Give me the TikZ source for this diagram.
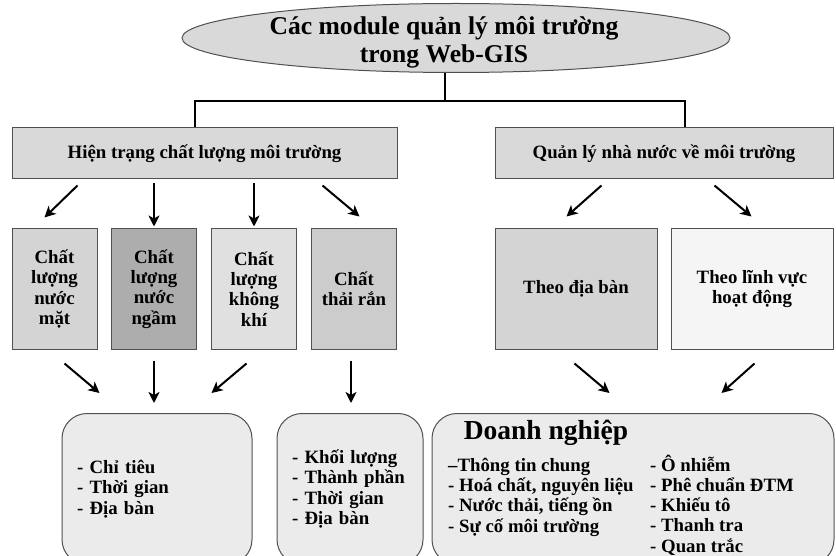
\documentclass[tikz,border=0pt]{standalone}
\usepackage{fontspec}
\setmainfont{Liberation Serif}
\usetikzlibrary{shapes.geometric,arrows.meta}

\definecolor{xamtieude}{HTML}{D9D9D9}
\definecolor{xamnuocmat}{HTML}{D4D4D4}
\definecolor{xamnuocngam}{HTML}{ADADAD}
\definecolor{xamkhongkhi}{HTML}{E0E0E0}
\definecolor{xamthairan}{HTML}{CCCCCC}
\definecolor{xamlinhvuc}{HTML}{F5F5F5}
\definecolor{xamday}{HTML}{EBEBEB}
\definecolor{vienxam}{HTML}{505050}

\tikzset{
  modbox/.style={draw=vienxam, line width=1pt, fill=#1, inner sep=0pt, align=center,
    font=\fontsize{18.8}{20.3}\selectfont\bfseries},
  listbox/.style={draw=vienxam, line width=1pt, fill=xamday, rounded corners=25pt,
    inner xsep=15pt, inner ysep=0pt, align=left, font=\fontsize{18.8}{20.3}\selectfont\bfseries},
  listtext/.style={inner sep=0pt, align=left, font=\fontsize{18.8}{20.3}\selectfont\bfseries},
  arr/.style={line width=2pt, -{Stealth[length=11pt,width=11pt,inset=3pt]}},
  conn/.style={line width=2pt}
}

\begin{document}
\begin{tikzpicture}[x=1pt,y=-1pt]
  \useasboundingbox (0,0) rectangle (836,556);

  \node[ellipse, draw=vienxam, line width=1pt, fill=xamtieude, minimum width=548pt,
    minimum height=69pt, inner sep=0pt] (Title) at (456,38) {};
  \node[inner sep=0pt, align=center, font=\fontsize{25.6}{28}\selectfont\bfseries] (TitleText) at (444,42)
    {Các module quản lý môi trường\\trong Web-GIS};

  \node[modbox=xamtieude, minimum width=385pt, minimum height=51pt] (HienTrang) at (204.5,153.5)
    {Hiện trạng chất lượng môi trường};
  \node[modbox=xamtieude, minimum width=338pt, minimum height=51pt] (QuanLy) at (664,153.5)
    {Quản lý nhà nước về môi trường};

  \coordinate (Nhanh) at (445,101);
  \draw[conn] (Nhanh |- Title.south) -- (Nhanh);
  \draw[conn] ([xshift=-9.5pt]HienTrang.north) |- (Nhanh) -| ([xshift=21pt]QuanLy.north);

  \node[modbox=xamnuocmat, minimum width=85pt, minimum height=120pt] (NuocMat) at (54.5,289)
    {Chất\\lượng\\nước\\mặt};
  \node[modbox=xamnuocngam, minimum width=85pt, minimum height=120pt] (NuocNgam) at (154,289)
    {Chất\\lượng\\nước\\ngầm};
  \node[modbox=xamkhongkhi, minimum width=85pt, minimum height=120pt] (KhongKhi) at (254,289)
    {Chất\\lượng\\không\\khí};
  \node[modbox=xamthairan, minimum width=85pt, minimum height=120pt] (ThaiRan) at (354,289)
    {Chất\\thải rắn};
  \node[modbox=xamnuocmat, minimum width=162pt, minimum height=120pt] (DiaBan) at (576,289)
    {Theo địa bàn};
  \node[modbox=xamlinhvuc, minimum width=162pt, minimum height=120pt] (LinhVuc) at (752,289)
    {Theo lĩnh vực\\hoạt động};

  \draw[arr] ([shift={(66,6)}]HienTrang.south west) -- ([shift={(33,-11)}]NuocMat.north west);
  \draw[arr, shorten <=4pt, shorten >=2pt] (HienTrang.south -| NuocNgam.north) -- (NuocNgam.north);
  \draw[arr, shorten <=4pt, shorten >=2pt] (HienTrang.south -| KhongKhi.north) -- (KhongKhi.north);
  \draw[arr] ([shift={(311,6)}]HienTrang.south west) -- ([shift={(48.5,-12)}]ThaiRan.north west);
  \draw[arr] ([shift={(107,6)}]QuanLy.south west) -- ([shift={(72,-12)}]DiaBan.north west);
  \draw[arr] ([shift={(220,6)}]QuanLy.south west) -- ([shift={(81,-12)}]LinhVuc.north west);

  \node[listbox, minimum width=190pt, minimum height=151pt, text width=160pt] (ChiTieu) at (157,489)
    {- Chỉ tiêu\\- Thời gian\\- Địa bàn};
  \node[listbox, minimum width=146pt, minimum height=151pt, text width=116pt] (KhoiLuong) at (350,489)
    {- Khối lượng\\- Thành phần\\- Thời gian\\- Địa bàn};
  \node[listbox, minimum width=402pt, minimum height=151pt] (DoanhNghiep) at (633,489) {};

  \node[inner sep=0pt, font=\fontsize{27.5}{30}\selectfont\bfseries] (TenDN) at (546,433) {Doanh nghiệp};
  \node[listtext, anchor=west] (ThongTin) at (448,497)
    {–Thông tin chung\\- Hoá chất, nguyên liệu\\- Nước thải, tiếng ồn\\- Sự cố môi trường};
  \node[listtext, anchor=west] (ONhiem) at (650,505)
    {- Ô nhiễm\\- Phê chuẩn ĐTM\\- Khiếu tô\\- Thanh tra\\- Quan trắc};

  \draw[arr] ([shift={(53,14)}]NuocMat.south west) -- ([shift={(38,-20)}]ChiTieu.north west);
  \draw[arr, shorten <=11pt, shorten >=10pt] (NuocNgam.south) -- (NuocNgam.south |- ChiTieu.north);
  \draw[arr] ([shift={(35.5,14)}]KhongKhi.south west) -- ([shift={(150,-20)}]ChiTieu.north west);
  \draw[arr, shorten <=11pt, shorten >=10pt] ([xshift=-3pt]ThaiRan.south) -- ([xshift=-3pt]ThaiRan.south |- KhoiLuong.north);
  \draw[arr] ([shift={(80,14)}]DiaBan.south west) -- ([shift={(178,-20)}]DoanhNghiep.north west);
  \draw[arr] ([shift={(84,14)}]LinhVuc.south west) -- ([shift={(290,-20)}]DoanhNghiep.north west);
\end{tikzpicture}
\end{document}
